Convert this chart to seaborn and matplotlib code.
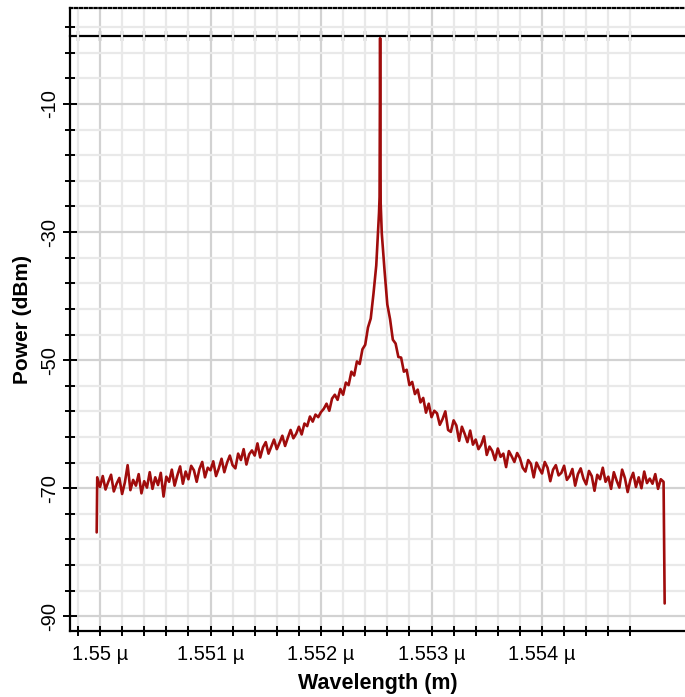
import matplotlib
matplotlib.use("Agg")
import matplotlib.pyplot as plt
import seaborn as sns
import pandas as pd

# ---------------- data ----------------
wavelength_nm = [
    1549.970, 1549.975,
    1550.000, 1550.025, 1550.050, 1550.075, 1550.100, 1550.125, 1550.150, 1550.175,
    1550.200, 1550.225, 1550.250, 1550.275, 1550.300, 1550.325, 1550.350, 1550.375,
    1550.400, 1550.425, 1550.450, 1550.475, 1550.500, 1550.525, 1550.550, 1550.575,
    1550.600, 1550.625, 1550.650, 1550.675, 1550.700, 1550.725, 1550.750, 1550.775,
    1550.800, 1550.825, 1550.850, 1550.875, 1550.900, 1550.925, 1550.950, 1550.975,
    1551.000, 1551.025, 1551.050, 1551.075, 1551.100, 1551.125, 1551.150, 1551.175,
    1551.200, 1551.225, 1551.250, 1551.275, 1551.300, 1551.325, 1551.350, 1551.375,
    1551.400, 1551.425, 1551.450, 1551.475, 1551.500, 1551.525, 1551.550, 1551.575,
    1551.600, 1551.625, 1551.650, 1551.675, 1551.700, 1551.725, 1551.750, 1551.775,
    1551.800, 1551.825, 1551.850, 1551.875, 1551.900, 1551.925, 1551.950, 1551.975,
    1552.000, 1552.025, 1552.050, 1552.075, 1552.100, 1552.125, 1552.150, 1552.175,
    1552.200, 1552.225, 1552.250, 1552.275, 1552.300, 1552.325, 1552.350, 1552.375,
    1552.400, 1552.425, 1552.450, 1552.475, 1552.500, 1552.510, 1552.520, 1552.525,
    1552.530, 1552.535, 1552.540, 1552.545, 1552.550, 1552.560, 1552.575,
    1552.600, 1552.625, 1552.650, 1552.675, 1552.700, 1552.725, 1552.750, 1552.775,
    1552.800, 1552.825, 1552.850, 1552.875, 1552.900, 1552.925, 1552.950, 1552.975,
    1553.000, 1553.025, 1553.050, 1553.075, 1553.100, 1553.125, 1553.150, 1553.175,
    1553.200, 1553.225, 1553.250, 1553.275, 1553.300, 1553.325, 1553.350, 1553.375,
    1553.400, 1553.425, 1553.450, 1553.475, 1553.500, 1553.525, 1553.550, 1553.575,
    1553.600, 1553.625, 1553.650, 1553.675, 1553.700, 1553.725, 1553.750, 1553.775,
    1553.800, 1553.825, 1553.850, 1553.875, 1553.900, 1553.925, 1553.950, 1553.975,
    1554.000, 1554.025, 1554.050, 1554.075, 1554.100, 1554.125, 1554.150, 1554.175,
    1554.200, 1554.225, 1554.250, 1554.275, 1554.300, 1554.325, 1554.350, 1554.375,
    1554.400, 1554.425, 1554.450, 1554.475, 1554.500, 1554.525, 1554.550, 1554.575,
    1554.600, 1554.625, 1554.650, 1554.675, 1554.700, 1554.725, 1554.750, 1554.775,
    1554.800, 1554.825, 1554.850, 1554.875, 1554.900, 1554.925, 1554.950, 1554.975,
    1555.000, 1555.025, 1555.050, 1555.075, 1555.100, 1555.110,
]

power_dbm = [
    -76.9, -68.3,
    -69.8, -68.1, -70.2, -69.0, -67.9, -70.5, -69.3, -68.4,
    -70.9, -69.1, -66.4, -70.3, -68.7, -69.6, -67.8, -70.8,
    -68.9, -69.9, -67.5, -70.1, -68.3, -69.5, -67.6, -71.3,
    -68.2, -69.0, -67.1, -69.6, -68.0, -66.6, -69.3, -67.4,
    -68.6, -66.5, -67.2, -69.0, -67.0, -65.9, -68.3, -66.8,
    -67.2, -65.8, -68.1, -66.9, -65.4, -67.5, -66.0, -64.9,
    -66.4, -66.9, -64.6, -65.6, -63.9, -66.3, -64.7, -64.1,
    -64.9, -63.0, -65.2, -63.6, -62.8, -64.6, -63.5, -62.4,
    -63.9, -62.9, -61.8, -63.4, -62.1, -60.9, -62.2, -61.5,
    -60.4, -61.6, -59.9, -60.3, -58.8, -59.6, -58.5, -58.9,
    -58.1, -57.6, -56.8, -57.9, -56.0, -55.4, -56.2, -54.5,
    -55.4, -53.5, -53.9, -51.8, -52.4, -50.2, -50.6, -48.3,
    -47.6, -44.9, -43.5, -39.6, -35.2, -32.0, -29.0, -27.0,
    -24.5, 0.3, -25.5, -28.0, -30.2, -32.5, -36.0,
    -41.3, -43.6, -46.8, -47.4, -49.5, -49.6, -51.8, -51.5,
    -53.9, -53.4, -55.3, -54.6, -56.6, -55.9, -58.2, -56.8,
    -58.9, -57.9, -58.3, -60.1, -59.2, -58.0, -60.9, -61.2,
    -59.4, -60.2, -62.6, -60.4, -61.5, -62.8, -61.0, -63.2,
    -62.4, -63.9, -63.2, -61.9, -64.8, -63.5, -64.2, -65.6,
    -63.8, -65.1, -64.6, -66.7, -64.2, -65.0, -65.9, -64.5,
    -65.3, -66.8, -67.4, -65.6, -66.2, -68.3, -66.0, -66.9,
    -67.7, -65.9, -66.8, -68.9, -67.1, -66.4, -68.0, -67.6,
    -66.5, -68.7, -68.1, -67.0, -69.6, -67.8, -66.9, -68.5,
    -69.4, -67.3, -68.1, -70.4, -67.9, -68.6, -66.8, -69.0,
    -68.2, -70.1, -67.5, -68.8, -69.9, -67.1, -68.4, -70.6,
    -68.7, -67.6, -69.8, -68.3, -70.0, -67.4, -69.2, -68.5,
    -69.3, -67.8, -70.1, -68.6, -69.0, -88.0,
]

x_major_ticks = [1550, 1551, 1552, 1553, 1554]
x_tick_labels = ["1.55 µ", "1.551 µ", "1.552 µ", "1.553 µ", "1.554 µ"]
x_minor_ticks = [1549.8, 1550.2, 1550.4, 1550.6, 1550.8, 1551.2, 1551.4, 1551.6,
                 1551.8, 1552.2, 1552.4, 1552.6, 1552.8, 1553.2, 1553.4, 1553.6,
                 1553.8, 1554.2, 1554.4, 1554.6, 1554.8]
y_major_ticks = [-90, -70, -50, -30, -10]
y_tick_labels = ["-90", "-70", "-50", "-30", "-10"]
y_minor_ticks = [-86, -82, -78, -74, -66, -62, -58, -54, -46, -42, -38, -34,
                 -26, -22, -18, -14, -6, -2, 2]

x_limits = (1549.7285, 1555.294)
y_limits = (-92.3, 5.0)
ref_line_level = 0.6   # level of the solid horizontal reference line (dBm)

# ---------------- style ----------------
sns.set_theme(style="white")
plt.rcParams["font.family"] = ["Liberation Sans", "DejaVu Sans"]

df = pd.DataFrame({"wavelength": wavelength_nm, "power": power_dbm})

fig = plt.figure(figsize=(6.85, 6.97), dpi=100)
ax = fig.add_axes([70 / 685, 66 / 697, 615 / 685, 623 / 697])

sns.lineplot(data=df, x="wavelength", y="power", ax=ax, color="#a00c0c",
             linewidth=1.9, estimator=None, sort=False, zorder=3)

ax.set_xlim(*x_limits)
ax.set_ylim(*y_limits)

ax.set_xticks(x_major_ticks)
ax.set_xticklabels(x_tick_labels)
ax.set_xticks(x_minor_ticks, minor=True)
ax.set_yticks(y_major_ticks)
ax.set_yticklabels(y_tick_labels)
ax.set_yticks(y_minor_ticks, minor=True)

ax.grid(which="major", color="#d2d2d2", linewidth=1.6, zorder=0)
ax.grid(which="minor", color="#e9e9e9", linewidth=1.6, zorder=0)
ax.set_axisbelow(True)

ax.tick_params(which="both", direction="inout", color="black", width=1.4,
               left=True, bottom=True, top=False, right=False)
ax.tick_params(axis="y", which="major", length=10, pad=3, labelsize=14.5,
               labelrotation=90, labelcolor="black")
ax.tick_params(axis="y", which="minor", length=6.5)
ax.tick_params(axis="x", which="both", length=6.5)
ax.tick_params(axis="x", which="major", pad=7, labelsize=14.5, labelcolor="black")
for lbl in ax.get_yticklabels():
    lbl.set_va("center")

for side in ("left", "bottom"):
    ax.spines[side].set_color("black")
    ax.spines[side].set_linewidth(1.6)
ax.spines["right"].set_visible(False)
ax.spines["top"].set_color("black")
ax.spines["top"].set_linewidth(1.6)
ax.spines["top"].set_linestyle((0, (1, 1.2)))

# solid reference line with ticks near the top
frac = (ref_line_level - y_limits[0]) / (y_limits[1] - y_limits[0])
sec = ax.secondary_xaxis(frac)
sec.set_xticks(x_major_ticks + x_minor_ticks)
sec.set_xticklabels([""] * (len(x_major_ticks) + len(x_minor_ticks)))
sec.tick_params(direction="inout", length=6.5, width=1.6, color="black")
for s in sec.spines.values():
    s.set_linewidth(1.6)
    s.set_color("black")

ax.set_xlabel("Wavelength (m)", fontsize=15.5, fontweight="bold",
              color="black", labelpad=6)
ax.set_ylabel("Power (dBm)", fontsize=15, fontweight="bold",
              color="black", labelpad=6)

fig.savefig("out.png", dpi=100)
